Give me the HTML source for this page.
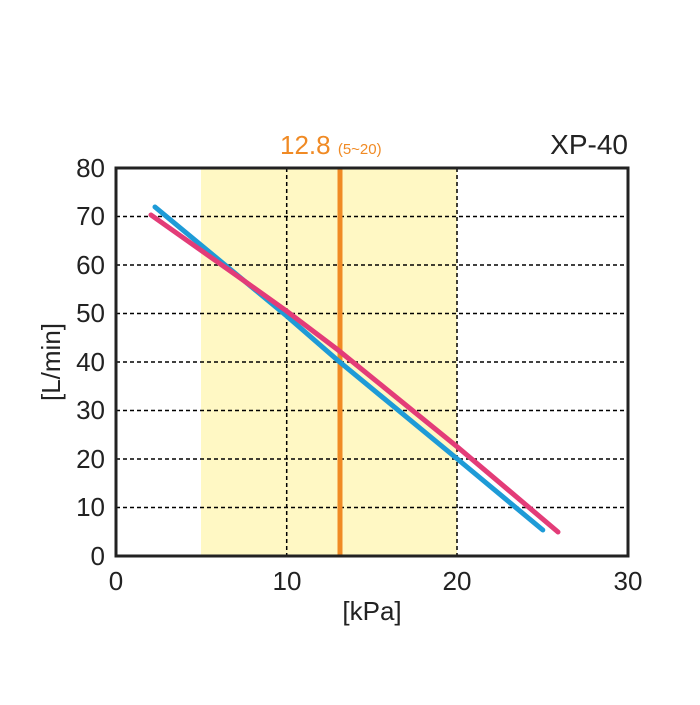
<!DOCTYPE html><html><head><style>body{margin:0;background:#fff}</style></head><body>
<svg width="700" height="700" xmlns="http://www.w3.org/2000/svg" font-family="Liberation Sans, sans-serif">
<rect x="201" y="168" width="256" height="388" fill="#fff8c4"/>
<g stroke="#000" stroke-width="1.5" stroke-dasharray="4,3">
<line x1="116" x2="628" y1="507.5" y2="507.5"/><line x1="116" x2="628" y1="459" y2="459"/><line x1="116" x2="628" y1="410.5" y2="410.5"/><line x1="116" x2="628" y1="362" y2="362"/><line x1="116" x2="628" y1="313.5" y2="313.5"/><line x1="116" x2="628" y1="265" y2="265"/><line x1="116" x2="628" y1="216.5" y2="216.5"/>
<line x1="286.7" x2="286.7" y1="168" y2="556"/><line x1="457" x2="457" y1="168" y2="556"/>
</g>
<line x1="340" x2="340" y1="168" y2="556" stroke="#f08a24" stroke-width="5"/>
<polyline points="155,207 286.7,316 337.9,360.5 457.4,459 542.8,530" fill="none" stroke="#1e9bd7" stroke-width="5" stroke-linecap="round"/>
<polyline points="151,215 235.5,274.7 286.7,311.1 337.9,349.9 457.4,446.9 558,532" fill="none" stroke="#e33c78" stroke-width="5" stroke-linecap="round"/>
<rect x="116" y="168" width="512" height="388" fill="none" stroke="#222" stroke-width="3"/>
<g font-size="26" fill="#222" text-anchor="end">
<text x="105" y="565">0</text><text x="105" y="516">10</text><text x="105" y="468">20</text><text x="105" y="419">30</text><text x="105" y="371">40</text><text x="105" y="322">50</text><text x="105" y="274">60</text><text x="105" y="225">70</text><text x="105" y="177">80</text>
</g>
<g font-size="26" fill="#222" text-anchor="middle">
<text x="116" y="590">0</text><text x="287" y="590">10</text><text x="457" y="590">20</text><text x="628" y="590">30</text>
<text x="372" y="620">[kPa]</text>
<text transform="translate(60,362) rotate(-90)">[L/min]</text>
</g>
<text x="628" y="154" font-size="28" fill="#222" text-anchor="end">XP-40</text>
<text x="280" y="154" font-size="26" fill="#f08a24">12.8 <tspan font-size="15">(5~20)</tspan></text>
</svg></body></html>
